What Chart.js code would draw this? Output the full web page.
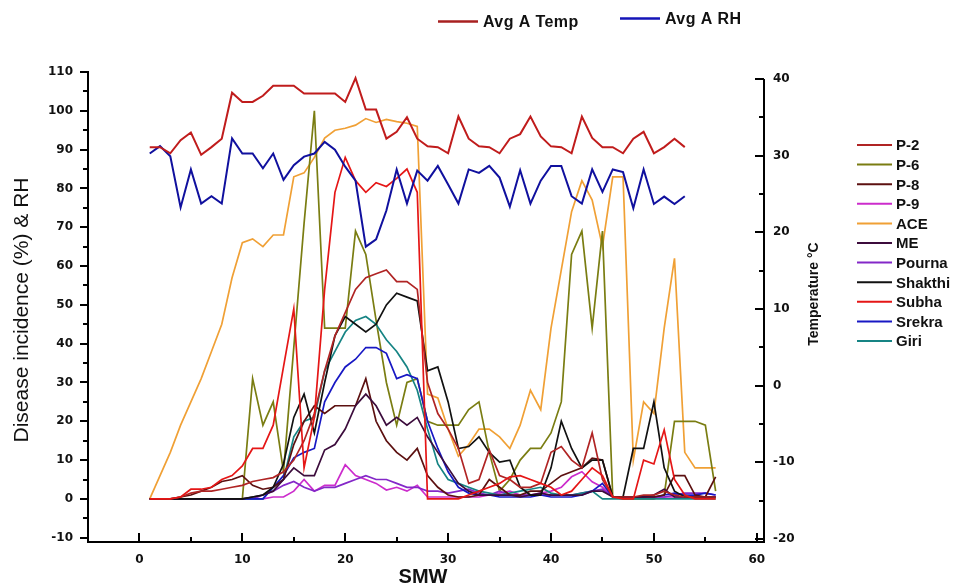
<!DOCTYPE html>
<html>
<head>
<meta charset="utf-8">
<script src="https://cdn.jsdelivr.net/npm/chart.js@4.4.0/dist/chart.umd.min.js"></script>
<style>
  html, body { margin: 0; padding: 0; background: #ffffff; }
  #wrap { position: relative; width: 966px; height: 587px; }
  canvas { position: absolute; left: 0; top: 0; }
</style>
</head>
<body>
<div id="wrap"><canvas id="c" width="966" height="587"></canvas></div>
<script>
// ---------- DATA ----------
const weeks = [1,2,3,4,5,6,7,8,9,10,11,12,13,14,15,16,17,18,19,20,21,22,23,24,25,26,27,28,29,30,31,32,33,34,35,36,37,38,39,40,41,42,43,44,45,46,47,48,49,50,51,52,53,54,55,56];
const weatherWeeks = [1,2,3,4,5,6,7,8,9,10,11,12,13,14,15,16,17,18,19,20,21,22,23,24,25,26,27,28,29,30,31,32,33,34,35,36,37,38,39,40,41,42,43,44,45,46,47,48,49,50,51,52,53];

// Avg A Temp (°C, right axis)
const avgTemp = [31.1,31.1,30.3,32.0,33.0,30.1,31.1,32.2,38.2,37.0,
                 37.0,37.8,39.1,39.1,39.1,38.1,38.1,38.1,38.1,37.0,
                 40.1,36.0,36.0,32.2,33.1,35.0,32.2,31.2,31.1,30.3,
                 35.1,32.2,31.2,31.1,30.3,32.2,32.8,35.1,32.5,31.2,
                 31.1,30.3,35.1,32.3,31.1,31.1,30.3,32.2,33.1,30.3,
                 31.1,32.2,31.1];
// Avg A RH (%, left axis)
const avgRH = [89,90.9,88.3,75.1,84.9,76.1,78,76.1,92.9,89,
               89,85.2,89,82.2,86,88.2,89,92,90,85.6,
               82,65,66.9,74.3,84.9,76.1,84.6,82,85.8,81,
               76.1,84.9,84,85.8,82.8,75.3,84.7,76.1,82,85.8,
               85.8,78,76.1,84.9,79.1,84.9,84.2,74.9,84.9,76,
               77.9,76,78];

// Disease incidence (%)
const P2 = [0,0,0,0.5,1.5,2,2,2.5,3,3.5, 4.5,5,5.5,7,10,15,22,33,42,48, 54,57,58,59,56,56,54,30,22,18,
            13,4,5,12.6,6,5,3,3,4,12, 13.5,10,8,17,5,0.5,0.5,0.5,1,1, 2,1,0.5,0.5,0.5,0.5];
const P6 = [0,0,0,0,0,0,0,0,0,0, 31,19,25,7,39,71,100,44,44,44, 69,63,46,30,19,30,31,20,19,19,
            19,23,25,12,2,5,10,13,13,17, 25,63,69,44,69,0.5,0,0,0,0, 1,20,20,20,19,2];
const P8 = [0,0,0,0.5,1,2,3,4.5,5,6, 3.5,2.5,3,5,14,20,24,22,24,24, 24,31,20,15,12,10,13,6,3,1,
            0.5,0.5,1,5,3,1,1,2,2,4, 6,7,8,10.5,10,0.5,0.5,0.5,0.5,0.5, 1,6,6,1,0.5,5.7];
const P9 = [0,0,0,0,0,0,0,0,0,0, 0,0,0.5,0.5,2,5,2,3.5,3.5,8.8, 6,5,4,2.3,3,2,3.5,0.5,0.5,0.5,
            0.5,0.5,0.5,1,1.5,2,1,1,1.5,2, 3,5.7,7,4.4,3,0.5,0.5,0.5,0.5,0.5, 0.5,0.5,0.5,0.5,0.5,0.5];
const ACE = [0,6,12,19,25,31,38,45,57,66, 67,65,68,68,83,84,88,93,95,95.5, 96.3,98,97,97.8,97.2,96.8,96,27,26,18,
             11,14,18,18,16,13,19,28,23,44, 59,74,82,77,65,83,83,10,25,22, 44,62,12,8,8,8];
const ME = [0,0,0,0,0,0,0,0,0,0, 0.5,1,2,5,8,6,6,12.6,14,18, 24,27,24,19,21,19,21,16,12,8,
            4,2,1,1,1,1,0.5,1,1.5,1, 1,1,1,2,2,0.5,0.5,0.5,0.5,1, 2.5,0.5,0.5,0.5,0.5,0.5];
const Pourna = [0,0,0,0,0,0,0,0,0,0, 0,1,2,3.5,4.5,3,2,3,3,4, 5,6,5,5,4,3,3,2,2,1.5,
                2,2.5,1.5,1,2,1,1,1,1,1, 1,1,1.5,2,2.5,0.5,0.5,0.5,0.5,0.5, 0.5,1,1.5,1.5,1.5,1];
const Shakthi = [0,0,0,0,0,0,0,0,0,0, 0.5,1,3,9,21,27,17,30,42,47, 45,43,45,50,53,52,51,33,34,25,
                 13,13.5,16,12,9.5,10,3,1,1,8, 20,13,8,10,10,0.5,0.5,13,13,25, 8,2,0.5,0.5,0.5,0.5];
const Subha = [0,0,0,0.5,2.5,2.5,3,5,6,8.5, 13,13,19,34,49,8,21,54,79,88, 82,79,81.5,80.5,82.6,85,79,0,0,0,
               0,1,2,3,4,5.7,6,5,4,3, 1,2,5,8,6,0.5,0,0,10,9, 17.8,5,1,0,0,0];
const Srekra = [0,0,0,0,0,0,0,0,0,0, 0,0,3,6,10.6,12,13,25,30,34, 36,39,39,37.5,31,32,31,20,13,7,
                3,1.5,1,1,0.5,0.5,0.5,0.5,1,0.5, 0.5,0.5,1,2,4,0.5,0.5,0.5,0.5,0.5, 1,1.5,1,1,1.5,1];
const Giri = [0,0,0,0,0,0,0,0,0,0, 0,0,3,5,16,20,21,33,38,43, 46,47,45,41,38,34,28,18,9,5,
              4,3,2,1.5,1,1.5,2,2.5,3,1.5, 1,1,1.5,2,0,0,0,0,0,0, 0,0,0,0,0,0];

const seriesNames  = ['P-2','P-6','P-8','P-9','ACE','ME','Pourna','Shakthi','Subha','Srekra','Giri'];
const seriesValues = [P2, P6, P8, P9, ACE, ME, Pourna, Shakthi, Subha, Srekra, Giri];

// ---------- STYLES ----------
const seriesColors = ['#b02424','#7a7d12','#5c1010','#cc2ccc','#f0a035','#3c0c3c','#8428c8','#111111','#e51616','#1818c4','#168484'];
const tempColor = '#c01c1c';
const rhColor = '#10109e';
const drawOrder = [8,0,7,5,2,9,10,6,3,1,4]; // first = on top

const FONT = '"Liberation Sans", Arial, sans-serif';
const TICKFONT = { family: '"DejaVu Sans", sans-serif', weight: 'bold', size: 12 };

const toXY = (xs, ys) => xs.map((x, i) => ({ x: x, y: ys[i] }));

const datasets = [
  { label: 'Avg A Temp', data: toXY(weatherWeeks, avgTemp), yAxisID: 'y1', borderColor: tempColor, borderWidth: 2 },
  { label: 'Avg A RH', data: toXY(weatherWeeks, avgRH), yAxisID: 'y', borderColor: rhColor, borderWidth: 2 }
];
drawOrder.forEach(i => {
  datasets.push({ label: seriesNames[i], data: toXY(weeks, seriesValues[i]), yAxisID: 'y',
                  borderColor: seriesColors[i], borderWidth: 1.7 });
});
datasets.forEach(d => { d.pointRadius = 0; d.tension = 0; d.fill = false; d.backgroundColor = d.borderColor; });

const isMajor = v => Math.abs(v % 10) < 1e-6;

const decor = {
  id: 'decor',
  afterDraw(chart) {
    const ctx = chart.ctx, a = chart.chartArea;
    const sx = chart.scales.x, sy = chart.scales.y, sr = chart.scales.y1;
    ctx.save();
    ctx.strokeStyle = '#000'; ctx.lineWidth = 2; ctx.lineCap = 'butt';
    const seg = (x1, y1, x2, y2) => { ctx.beginPath(); ctx.moveTo(x1, y1); ctx.lineTo(x2, y2); ctx.stroke(); };
    // left ticks (outward)
    sy.ticks.forEach(t => {
      const p = Math.round(sy.getPixelForValue(t.value));
      const L = isMajor(t.value) ? 8 : 5;
      seg(a.left - L, p, a.left, p);
    });
    // bottom ticks (inward)
    sx.ticks.forEach(t => {
      const p = Math.round(sx.getPixelForValue(t.value));
      if (p <= a.left + 1) return;
      const L = isMajor(t.value) ? 9 : 5;
      seg(p, a.bottom, p, a.bottom - L);
    });
    // right spine + ticks (inward)
    const rTop = Math.round(sr.getPixelForValue(40));
    seg(a.right, rTop, a.right, a.bottom + 1);
    sr.ticks.forEach(t => {
      const p = Math.round(sr.getPixelForValue(t.value));
      const L = isMajor(t.value) ? 9 : 5;
      seg(a.right - L, p, a.right, p);
    });

    ctx.fillStyle = '#111';
    // left title
    ctx.save();
    ctx.translate(28, 310); ctx.rotate(-Math.PI / 2);
    ctx.font = '21px ' + FONT; ctx.textAlign = 'center'; ctx.textBaseline = 'alphabetic';
    ctx.fillText('Disease incidence (%) & RH', 0, 0);
    ctx.restore();
    // right title
    ctx.save();
    ctx.translate(818, 294); ctx.rotate(-Math.PI / 2);
    ctx.font = 'bold 14px ' + FONT; ctx.textAlign = 'center'; ctx.textBaseline = 'alphabetic';
    ctx.fillText('Temperature \u00B0C', 0, 0);
    ctx.restore();
    // x title
    ctx.font = 'bold 20px ' + FONT; ctx.textAlign = 'center'; ctx.textBaseline = 'alphabetic';
    ctx.fillText('SMW', 423, 583);

    // top legend
    ctx.lineWidth = 2.5;
    ctx.strokeStyle = '#a82020'; seg(438, 21.5, 478, 21.5);
    ctx.strokeStyle = '#1414b8'; seg(620, 18.5, 660, 18.5);
    ctx.textAlign = 'left';
    ctx.font = 'bold 16px ' + FONT;
    try { ctx.letterSpacing = '0.4px'; } catch (e) {}
    ctx.fillText('Avg A Temp', 483, 27);
    ctx.fillText('Avg A RH', 665, 24);
    try { ctx.letterSpacing = '0px'; } catch (e) {}

    // right legend
    ctx.font = 'bold 15px ' + FONT;
    ctx.lineWidth = 2;
    seriesNames.forEach((n, i) => {
      const yy = 145 + 19.6 * i;
      ctx.strokeStyle = seriesColors[i];
      seg(857, yy, 892, yy);
      ctx.fillText(n, 896, yy + 5.4);
    });
    ctx.restore();
  }
};

new Chart(document.getElementById('c'), {
  type: 'line',
  data: { datasets: datasets },
  options: {
    responsive: false,
    animation: false,
    devicePixelRatio: 1,
    layout: { padding: { top: 72, left: 0, right: 0, bottom: 0 } },
    plugins: { legend: { display: false }, tooltip: { enabled: false }, title: { display: false } },
    scales: {
      x: {
        type: 'linear', min: -5, max: 60.7,
        grid: { drawOnChartArea: false, drawTicks: false },
        border: { display: true, color: '#000', width: 2 },
        ticks: { stepSize: 5, includeBounds: false, autoSkip: false, maxRotation: 0, padding: 11,
                 color: '#111', font: TICKFONT,
                 callback: v => (isMajor(v) ? String(v) : '') },
        title: { display: false },
        afterFit: s => { s.height = 45; }
      },
      y: {
        type: 'linear', position: 'left', min: -11.1, max: 110,
        grid: { drawOnChartArea: false, drawTicks: false },
        border: { display: true, color: '#000', width: 2 },
        ticks: { stepSize: 5, includeBounds: false, padding: 15, color: '#111', font: TICKFONT,
                 callback: v => (isMajor(v) ? String(v) : '') },
        title: { display: false },
        afterFit: s => { s.width = 88; }
      },
      y1: {
        type: 'linear', position: 'right', min: -20.4, max: 40.9,
        grid: { drawOnChartArea: false, drawTicks: false },
        border: { display: false },
        ticks: { stepSize: 5, includeBounds: false, padding: 9, color: '#111', font: TICKFONT,
                 callback: v => (isMajor(v) ? String(v) : '') },
        title: { display: false },
        afterFit: s => { s.width = 202; }
      }
    }
  },
  plugins: [decor]
});
</script>
</body>
</html>
